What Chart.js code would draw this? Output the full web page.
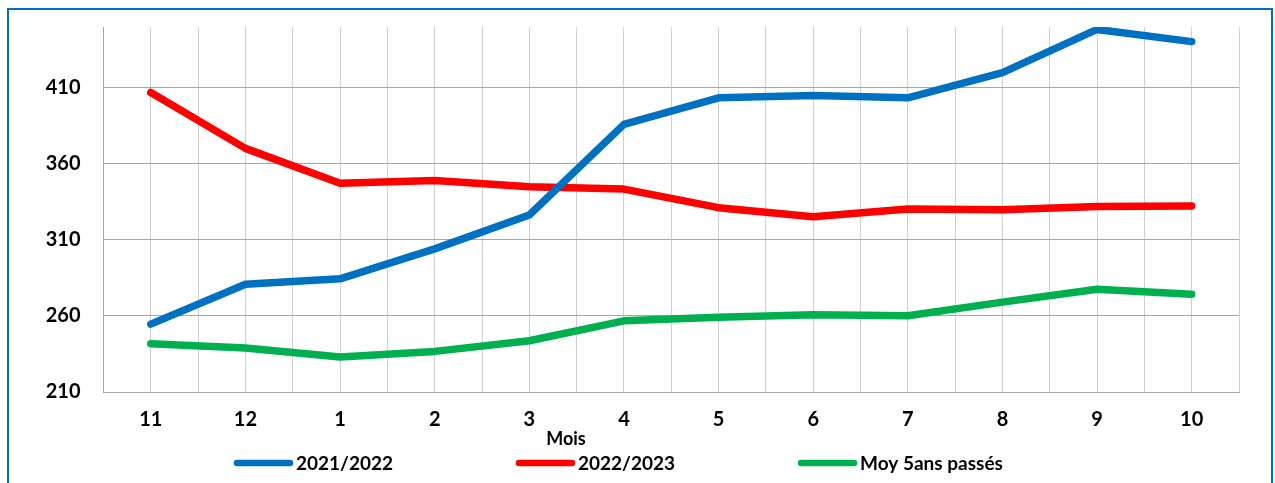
<!DOCTYPE html>
<html>
<head>
<meta charset="utf-8">
<script src="https://cdn.jsdelivr.net/npm/chart.js@4"></script>
<style>
  html, body { margin: 0; padding: 0; background: #fff; }
  #wrap { position: relative; width: 1275px; height: 483px; overflow: hidden; }
  #frame { position: absolute; left: 7px; top: 8px; width: 1262px; height: 520px; border: 2px solid #0070C0; }
  #chart { position: absolute; left: 0; top: 0; }
</style>
</head>
<body>
<div id="wrap">
  <div id="frame"></div>
  <canvas id="chart" width="1275" height="483"></canvas>
</div>
<script>
const mois = ['11', '12', '1', '2', '3', '4', '5', '6', '7', '8', '9', '10'];
const serie2122 = [254.6, 280.9, 284.4, 304.1, 326.4, 386, 403.4, 405, 403.4, 420, 448.4, 440.4];
const serie2223 = [406.9, 370.2, 347.2, 349, 345, 343.4, 331.2, 325.3, 330.3, 329.9, 331.9, 332.3];
const moy5ans   = [241.7, 238.9, 233, 236.7, 243.7, 256.8, 259.2, 260.8, 260.1, 269.1, 277.6, 274.3];
const yTicks = [210, 260, 310, 360, 410];

const fontName = 'Lato, "Open Sans", sans-serif';

function pts(arr) {
  return arr.map((v, i) => ({ x: i, y: v }));
}

function ds(label, data, color) {
  return {
    label: label,
    data: pts(data),
    borderColor: color,
    backgroundColor: color,
    borderWidth: 7.5,
    pointRadius: 0,
    pointHoverRadius: 0,
    tension: 0,
    borderCapStyle: 'round',
    borderJoinStyle: 'round'
  };
}

// legende + titre d'axe dessines a la main (placement Excel)
const extras = {
  id: 'extras',
  afterDraw(chart) {
    const c = chart.ctx;
    c.save();
    c.fillStyle = '#000';
    c.textBaseline = 'middle';
    c.textAlign = 'center';
    c.font = 'bold 18px ' + fontName;
    c.fillText('Mois', 566, 439);

    c.textAlign = 'left';
    c.font = 'bold 19px ' + fontName;
    let x = 237;
    const y = 463;
    chart.data.datasets.forEach(d => {
      c.strokeStyle = d.borderColor;
      c.lineWidth = 6.5;
      c.lineCap = 'round';
      c.beginPath();
      c.moveTo(x, y);
      c.lineTo(x + 53, y);
      c.stroke();
      c.fillText(d.label, x + 59, y + 1);
      x += 59 + c.measureText(d.label).width + 126;
    });
    c.restore();
  }
};

new Chart(document.getElementById('chart'), {
  type: 'line',
  data: {
    datasets: [
      ds('2021/2022', serie2122, '#0070C0'),
      ds('2022/2023', serie2223, '#FF0000'),
      ds('Moy 5ans passés', moy5ans, '#00B050')
    ]
  },
  options: {
    responsive: false,
    animation: false,
    layout: { padding: { top: 27, right: 36, bottom: 0, left: 0 } },
    plugins: {
      legend: { display: false },
      tooltip: { enabled: false }
    },
    scales: {
      x: {
        type: 'linear',
        min: -0.5,
        max: 11.5,
        afterFit: s => { s.height = 91; s.paddingLeft = 0; s.paddingRight = 0; },
        ticks: {
          stepSize: 0.5,
          maxTicksLimit: 40,
          autoSkip: false,
          maxRotation: 0,
          padding: 16,
          color: '#000',
          font: { family: fontName, size: 20, weight: 'bold' },
          callback: v => Number.isInteger(v) ? mois[v] : ''
        },
        grid: { color: '#d0d0d0', lineWidth: 1, drawTicks: false },
        border: { color: '#a6a6a6', width: 1 }
      },
      y: {
        min: 210,
        max: 450,
        afterFit: s => { s.width = 103.5; s.paddingTop = 0; s.paddingBottom = 0; },
        afterBuildTicks: s => { s.ticks = yTicks.map(v => ({ value: v })); },
        ticks: {
          stepSize: 50,
          padding: 23,
          color: '#000',
          font: { family: fontName, size: 20, weight: 'bold' }
        },
        grid: { color: '#a6a6a6', lineWidth: 1, drawTicks: false },
        border: { color: '#a6a6a6', width: 1 }
      }
    }
  },
  plugins: [extras]
});
</script>
</body>
</html>
